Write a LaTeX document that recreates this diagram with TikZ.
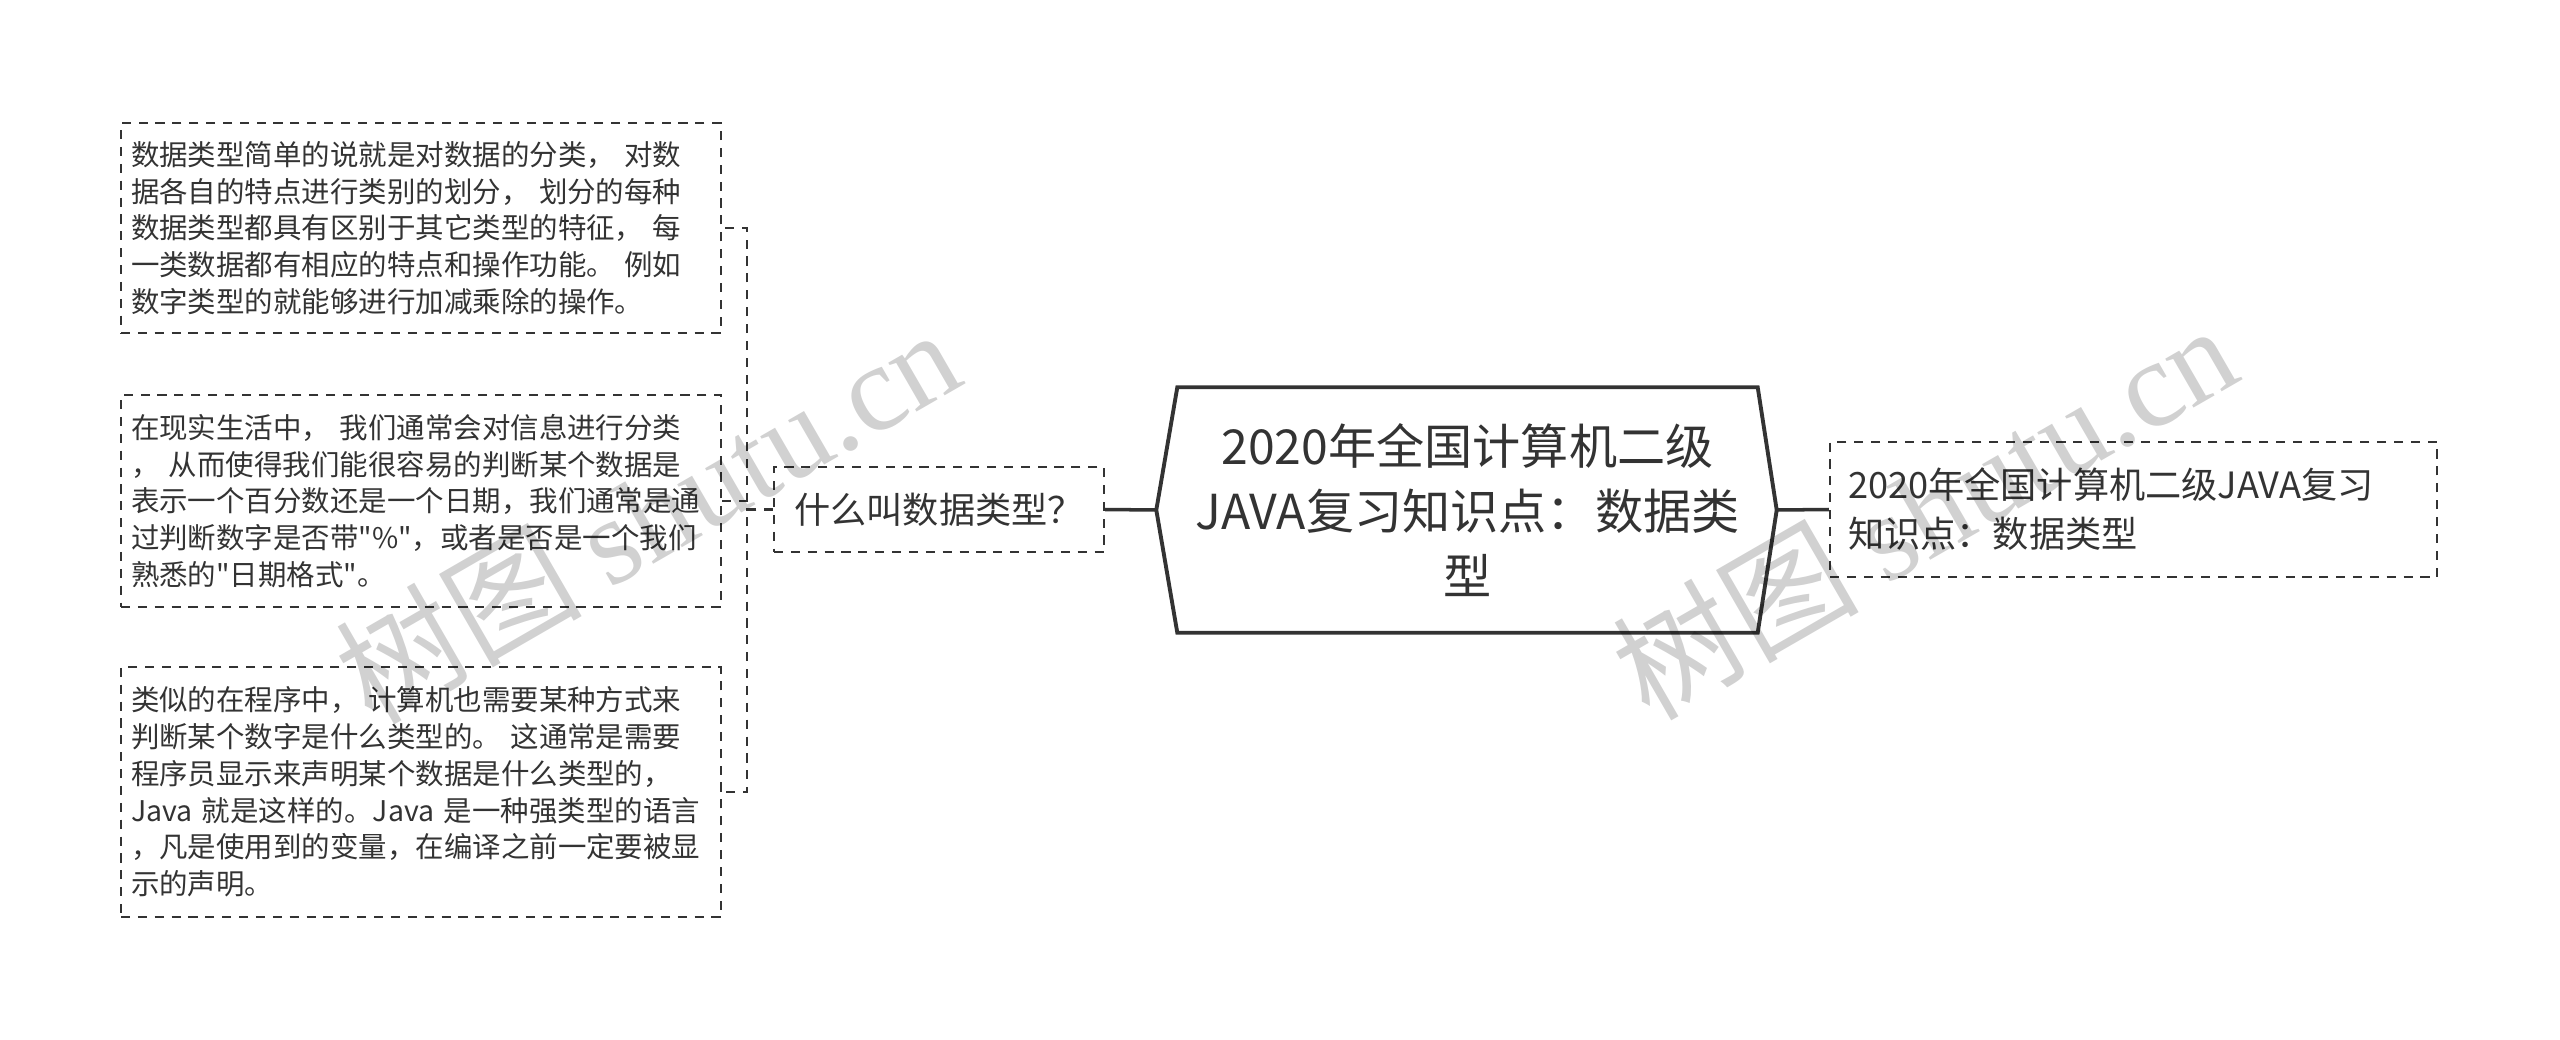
\documentclass[tikz,border=0pt]{standalone}
\usepackage{fontspec}
\newfontfamily\cjk{Noto Sans CJK SC}
\newfontfamily\wmfont{Liberation Serif}
\usepackage{xcolor}
\usetikzlibrary{calc}

\definecolor{ink}{HTML}{333333}

\begin{document}
\begin{tikzpicture}[
    leaf/.style={draw=ink, line width=0.6pt, dash pattern=on 2.6pt off 2.2pt, text=ink,
        align=left, text width=5.8cm, inner xsep=0.1cm, inner ysep=0pt, minimum width=6cm,
        font=\cjk\fontsize{8.1pt}{10.45pt}\selectfont},
    topic/.style={draw=ink, line width=0.6pt, dash pattern=on 2.6pt off 2.2pt, text=ink,
        align=left, inner sep=0pt, font=\cjk\fontsize{10.3pt}{13.9pt}\selectfont},
    hub/.style={text=ink, align=center, inner sep=0pt, minimum width=5.79cm, minimum height=2.44cm,
        font=\cjk\fontsize{13.7pt}{18.6pt}\selectfont},
    trunk/.style={draw=ink, line width=1pt},
    link/.style={draw=ink, line width=0.6pt, dash pattern=on 2.6pt off 2.2pt},
    wm/.style={text=black, text opacity=0.18, rotate=30, inner sep=0pt, font=\cjk\fontsize{35pt}{35pt}\selectfont}
  ]
  \useasboundingbox (0,0) rectangle (25.6,-10.39);

  % Draw the central node
  \node[hub] (hub) at (14.675,-5.10) {2020年全国计算机二级\\JAVA复习知识点：数据类\\型};
  \coordinate (hubw) at ($(hub.west)+(-0.21,0)$);
  \coordinate (hube) at ($(hub.east)+(0.19,0)$);
  \draw[line width=1.1pt, ink, line join=miter] (hub.north west) -- (hub.north east) -- (hube)
    -- (hub.south east) -- (hub.south west) -- (hubw) -- cycle;

  % Draw the branch nodes
  \node[topic, minimum width=3.30cm, minimum height=0.85cm] (branch) at (9.39,-5.095) {什么叫数据类型？};
  \node[topic, minimum width=6.07cm, minimum height=1.35cm, text width=5.71cm, inner xsep=0.18cm] (title) at (21.335,-5.095)
    {2020年全国计算机二级JAVA复习\\知识点：数据类型};

  % Draw the leaf boxes
  \node[leaf, minimum height=2.10cm] (box1) at (4.21,-2.28)
    {数据类型简单的说就是对数据的分类， 对数\\据各自的特点进行类别的划分， 划分的每种\\数据类型都具有区别于其它类型的特征， 每\\一类数据都有相应的特点和操作功能。 例如\\数字类型的就能够进行加减乘除的操作。};
  \node[leaf, minimum height=2.12cm] (box2) at (4.21,-5.01)
    {在现实生活中， 我们通常会对信息进行分类\\， 从而使得我们能很容易的判断某个数据是\\表示一个百分数还是一个日期，我们通常是通\\过判断数字是否带"\%"，或者是否是一个我们\\熟悉的"日期格式"。};
  \node[leaf, minimum height=2.50cm] (box3) at (4.21,-7.92)
    {类似的在程序中， 计算机也需要某种方式来\\判断某个数字是什么类型的。 这通常是需要\\程序员显示来声明某个数据是什么类型的，\\Java 就是这样的。Java 是一种强类型的语言\\，凡是使用到的变量，在编译之前一定要被显\\示的声明。};

  % Connect the nodes
  \draw[trunk] (branch.east) -- (hubw);
  \draw[trunk] (hube) -- (title.west);
  \foreach \n in {box1,box2,box3}
    \draw[link] (branch.west) -- ++(-0.26,0) |- (\n.east);

  % Watermarks
  \node[wm] (wm1) at (6.47,-5.14) {树图 {\wmfont shutu.cn}};
  \node[wm] (wm2) at (19.24,-5.10) {树图 {\wmfont shutu.cn}};
\end{tikzpicture}
\end{document}
